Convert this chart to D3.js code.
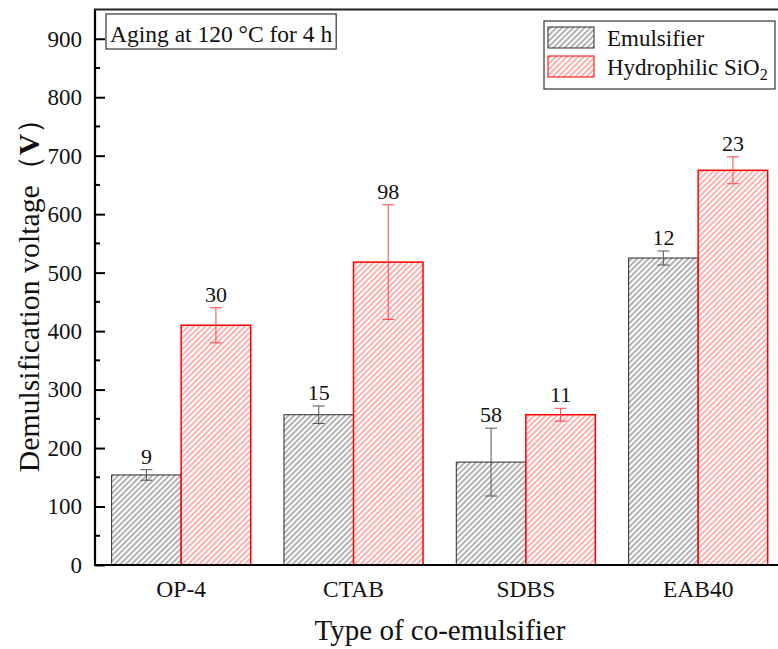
<!DOCTYPE html>
<html>
<head>
<meta charset="utf-8">
<script src="https://cdn.jsdelivr.net/npm/d3@7"></script>
<style>
  html, body { margin: 0; padding: 0; background: #fff; }
  svg { display: block; font-family: "Liberation Serif", "Times New Roman", serif; }
</style>
</head>
<body>
<svg id="chart" width="778" height="649"></svg>
<script>
// Demulsification voltage by co-emulsifier type (aging at 120 °C for 4 h)
const categories = ["OP-4", "CTAB", "SDBS", "EAB40"];
const seriesNames = ["Emulsifier", "Hydrophilic SiO2"];
const emulsifier = [154, 257, 176, 525];
const emulsifierErr = [9, 15, 58, 12];
const sio2 = [410, 518, 257, 675];
const sio2Err = [30, 98, 11, 23];
const yTicks = [0, 100, 200, 300, 400, 500, 600, 700, 800, 900];
const yMinorTicks = [50, 150, 250, 350, 450, 550, 650, 750, 850];

(function () {
const svg = d3.select("#chart");
const plotLeft = 95, plotBottom = 565, plotTop = 9.5;
const step = 172.33;
const plotRight = plotLeft + step * categories.length;

const y = d3.scaleLinear().domain([0, 950]).range([plotBottom, plotTop]);
const x0 = d3.scaleBand().domain(categories).range([plotLeft, plotRight])
  .paddingInner(0.193).paddingOuter(0.0965);
const x1 = d3.scaleBand().domain(seriesNames).range([0, x0.bandwidth()]);

const styles = {
  "Emulsifier": { stroke: "#2b2b2b", sw: 1, hatch: "#747474", err: "#555", pat: "hatchBlack" },
  "Hydrophilic SiO2": { stroke: "#ff0000", sw: 1.5, hatch: "#ff7272", err: "#ff4040", pat: "hatchRed" }
};

// Diagonal hatch fills
const defs = svg.append("defs");
Object.values(styles).forEach(s => {
  const p = defs.append("pattern").attr("id", s.pat)
    .attr("patternUnits", "userSpaceOnUse").attr("width", 4).attr("height", 4)
    .attr("patternTransform", "rotate(45)");
  p.append("rect").attr("width", 4).attr("height", 4).attr("fill", "#fff");
  p.append("line").attr("x1", 1).attr("y1", 0).attr("x2", 1).attr("y2", 4)
    .attr("stroke", s.hatch).attr("stroke-width", 1.1);
});

const rows = categories.map((c, i) => ({
  cat: c,
  vals: [
    { s: seriesNames[0], v: emulsifier[i], e: emulsifierErr[i] },
    { s: seriesNames[1], v: sio2[i], e: sio2Err[i] }
  ]
}));

const groups = svg.append("g").selectAll("g").data(rows).join("g")
  .attr("transform", d => `translate(${x0(d.cat)},0)`);

groups.selectAll("rect").data(d => d.vals).join("rect")
  .attr("x", d => x1(d.s))
  .attr("y", d => y(d.v))
  .attr("width", x1.bandwidth())
  .attr("height", d => y(0) - y(d.v))
  .attr("fill", d => `url(#${styles[d.s].pat})`)
  .attr("stroke", d => styles[d.s].stroke)
  .attr("stroke-width", d => styles[d.s].sw);

// Error bars
const cap = 6;
const cx = d => x1(d.s) + x1.bandwidth() / 2;
const eb = groups.selectAll("g.err").data(d => d.vals).join("g").attr("class", "err")
  .attr("stroke", d => styles[d.s].err).attr("stroke-width", 1);
eb.append("line")
  .attr("x1", cx).attr("x2", cx)
  .attr("y1", d => y(d.v - d.e)).attr("y2", d => y(d.v + d.e));
eb.append("line")
  .attr("x1", d => cx(d) - cap).attr("x2", d => cx(d) + cap)
  .attr("y1", d => y(d.v + d.e)).attr("y2", d => y(d.v + d.e));
eb.append("line")
  .attr("x1", d => cx(d) - cap).attr("x2", d => cx(d) + cap)
  .attr("y1", d => y(d.v - d.e)).attr("y2", d => y(d.v - d.e));

// Error values written above each bar
groups.selectAll("text.val").data(d => d.vals).join("text").attr("class", "val")
  .attr("x", cx)
  .attr("y", d => y(d.v + d.e) - 6)
  .attr("text-anchor", "middle")
  .attr("font-size", 22).attr("fill", "#111")
  .text(d => d.e);

// Y axis with inward ticks
const yAxis = svg.append("g").attr("transform", `translate(${plotLeft},0)`)
  .call(d3.axisLeft(y).tickValues(yTicks).tickSize(-10).tickSizeOuter(0).tickPadding(13));
yAxis.select(".domain").remove();
yAxis.selectAll(".tick line").attr("stroke", "#000").attr("stroke-width", 2);
yAxis.selectAll(".tick text").attr("font-size", 23).attr("fill", "#111")
  .attr("font-family", "Liberation Serif, serif");
svg.append("g").selectAll("line").data(yMinorTicks).join("line")
  .attr("x1", plotLeft).attr("x2", plotLeft + 5)
  .attr("y1", d => y(d)).attr("y2", d => y(d))
  .attr("stroke", "#000").attr("stroke-width", 2);

// Frame: left axis, bottom axis, top border
svg.append("line").attr("x1", plotLeft).attr("x2", plotLeft).attr("y1", plotTop).attr("y2", plotBottom + 1)
  .attr("stroke", "#000").attr("stroke-width", 2.2);
svg.append("line").attr("x1", plotLeft - 1).attr("x2", plotRight).attr("y1", plotBottom).attr("y2", plotBottom)
  .attr("stroke", "#000").attr("stroke-width", 2.2);
svg.append("line").attr("x1", plotLeft - 1).attr("x2", plotRight).attr("y1", plotTop).attr("y2", plotTop)
  .attr("stroke", "#222").attr("stroke-width", 2);

// Category labels
svg.append("g").selectAll("text").data(categories).join("text")
  .attr("x", d => x0(d) + x0.bandwidth() / 2)
  .attr("y", 597)
  .attr("text-anchor", "middle").attr("font-size", 23.5).attr("fill", "#111")
  .text(d => d);

// Axis titles
svg.append("text").attr("x", 440).attr("y", 640).attr("text-anchor", "middle")
  .attr("font-size", 29).attr("fill", "#111").text("Type of co-emulsifier");
const yt = svg.append("text").attr("transform", "translate(39,288) rotate(-90)")
  .attr("text-anchor", "middle").attr("font-size", 29.8).attr("fill", "#111");
yt.append("tspan").text("Demulsification voltage（");
yt.append("tspan").attr("font-weight", "bold").text("V");
yt.append("tspan").text("）");

// Condition note
const note = svg.append("g");
const noteText = note.append("text").attr("x", 110).attr("y", 42)
  .attr("font-size", 23.5).attr("fill", "#111").text("Aging at 120 °C for 4 h");
const nw = noteText.node().getComputedTextLength();
note.insert("rect", "text").attr("x", 106).attr("y", 14).attr("width", nw + 8).attr("height", 35)
  .attr("fill", "#fff").attr("stroke", "#333").attr("stroke-width", 1.2);

// Legend
const lg = svg.append("g");
lg.append("rect").attr("x", 544).attr("y", 21).attr("width", 231).attr("height", 68)
  .attr("fill", "#fff").attr("stroke", "#333").attr("stroke-width", 1.2);
seriesNames.forEach((s, i) => {
  const yy = 27 + i * 29;
  lg.append("rect").attr("x", 548).attr("y", yy).attr("width", 46).attr("height", 21)
    .attr("fill", `url(#${styles[s].pat})`).attr("stroke", styles[s].stroke).attr("stroke-width", 1);
  const t = lg.append("text").attr("x", 607).attr("y", yy + 19).attr("font-size", 23).attr("fill", "#111");
  if (s === "Hydrophilic SiO2") {
    t.append("tspan").text("Hydrophilic SiO");
    t.append("tspan").attr("font-size", 16).attr("dy", 5).text("2");
  } else {
    t.text(s);
  }
});
})();
</script>
</body>
</html>
